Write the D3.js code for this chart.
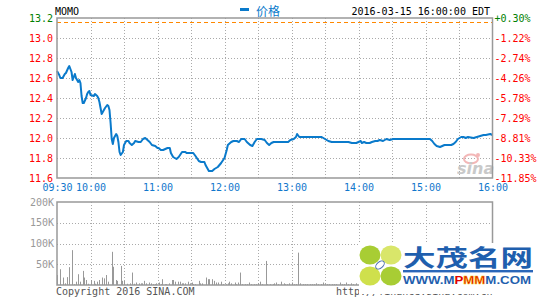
<!DOCTYPE html>
<html>
<head>
<meta charset="utf-8">
<script src="https://cdn.jsdelivr.net/npm/d3@7"></script>
<style>
  body { margin: 0; background: #fff; }
  svg { display: block; }
  text { font-family: "DejaVu Sans Mono", monospace; font-size: 10px; }
</style>
</head>
<body>
<div id="chart"></div>
<script>
// minutes since 09:30 and last price
const priceMinutes = [0,2,3,5,7,8,10,11,12,13,14,15,16,17,19,20,21,22,23,24,26,27,28,29,30,33,34,36,37,38,39,40,41,43,45,46,47,48,49,50,51,53,54,55,56,57,59,60,62,64,65,67,69,70,73,75,77,79,81,83,85,88,90,91,93,95,97,
  99,101,102,104,107,109,112,115,116,119,122,124,127,129,132,133,135,136,139,141,144,147,150,152,153,156,158,161,163,165,168,170,173,175,177,179,183,186,188,190,192,194,207,209,212,214,215,217,219,237,240,243,246,261,264,268,270,272,273,275,277,280,282,285,287,289,292,295,298,301,331,334,336,338,340,343,345,347,350,353,355,357,359,362,364,366,368,373,376,379,382,384,388,390];
const prices = [12.67,12.63,12.60,12.60,12.64,12.65,12.70,12.72,12.69,12.66,12.58,12.61,12.64,12.60,12.56,12.58,12.55,12.42,12.35,12.35,12.40,12.44,12.46,12.47,12.43,12.42,12.44,12.42,12.40,12.36,12.30,12.24,12.26,12.30,12.33,12.32,12.28,12.15,11.99,11.94,12.00,12.04,12.02,11.96,11.86,11.83,11.86,11.93,11.97,11.97,11.95,11.93,11.95,11.97,11.96,11.96,11.99,12.00,11.98,11.96,11.93,11.92,11.90,11.90,11.88,11.88,11.89,
  11.90,11.90,11.85,11.81,11.79,11.81,11.86,11.86,11.85,11.85,11.85,11.82,11.77,11.76,11.76,11.73,11.69,11.67,11.67,11.69,11.71,11.75,11.80,11.88,11.93,11.96,11.97,11.97,11.96,11.99,11.99,11.96,11.93,11.92,11.96,11.99,11.99,11.98,11.95,11.93,11.95,11.96,11.96,11.98,11.99,12.01,12.04,12.01,12.01,12.01,11.99,11.97,11.96,11.96,11.95,11.95,11.96,11.97,11.95,11.96,11.95,11.95,11.96,11.97,11.97,11.98,11.97,11.99,11.98,11.99,11.99,11.99,11.97,11.94,11.92,11.91,11.92,11.93,11.93,11.93,11.94,11.96,11.99,12.01,12.01,12.00,12.01,12.00,12.01,12.02,12.03,12.03,12.04,12.03];

// volume bars (minutes since 09:30, thousands of shares)
const volMinutes = [0,3,5,7,9,11,13,15,17,19,21,23,24,26,28,30,33,34,36,38,40,42,44,46,49,50,53,54,57,58,60,63,65,67,69,71,73,75,76,78,80,82,84,86,88,89,91,93,94,97,98,100,103,104,106,108,110,112,113,115,117,119,121,122,124,127,128,130,133,135,136,139,141,142,144,147,149,151,153,154,156,159,160,162,164,166,168,170,172,174,176,178,180,182,184,187,188,191,193,194,196,198,201,203,204,206,208,210,212,214,216,218,220,222,224,227,228,230,232,234,236,238,240,242,244,246,248,250,253,255,257,259,261,263,265,268];
const volumes = [24,38,18,4,19,43,84,2,8,26,8,34,18,12,3,12,10,3,8,12,18,16,24,8,80,44,12,10,46,10,10,3,4,30,3,6,4,4,4,10,4,6,4,2,2,4,6,2,14,2,2,4,12,12,8,8,8,4,4,4,8,4,6,2,2,10,4,4,18,14,14,14,10,6,6,8,2,2,4,8,4,6,2,6,30,2,2,2,6,2,2,2,4,8,2,58,2,2,2,4,6,2,8,4,2,2,4,6,2,2,78,4,2,2,2,2,2,2,4,2,2,6,2,2,2,2,2,2,6,2,2,6,2,4,2,4];

const prevClose = 13.16;
const priceTicks = [13.2,13.0,12.8,12.6,12.4,12.2,12.0,11.8,11.6];
const pctLabels = ["+0.30%","-1.22%","-2.74%","-4.26%","-5.78%","-7.29%","-8.81%","-10.33%","-11.85%"];
const gridMinutes = [30,60,90,120,150,180,210,240,270,300,330,360];
const timeTickMinutes = [0,30,90,150,210,270,330,390];
const timeLabels = ["09:30","10:00","11:00","12:00","13:00","14:00","15:00","16:00"];
const volTicks = [50,100,150,200];

const W = 545, H = 300;
const svg = d3.select('#chart').append('svg').attr('width', W).attr('height', H);

const x = d3.scaleLinear().domain([0, 390]).range([57, 492.5]);
const yP = d3.scaleLinear().domain([11.6, 13.2]).range([178, 18]);
const yV = d3.scaleLinear().domain([0, 200]).range([285, 202]);

const gridClr = '#aaa', frameClr = '#999';

function dotted(sel){
  return sel.attr('stroke', gridClr).attr('stroke-width', 1).attr('stroke-dasharray', '1,2').attr('shape-rendering', 'crispEdges');
}

// ---- price panel grid
svg.append('g').selectAll('line').data(priceTicks.slice(1, -1)).join('line')
  .attr('x1', x(0)).attr('x2', x(390))
  .attr('y1', d => Math.round(yP(d)) + 0.5).attr('y2', d => Math.round(yP(d)) + 0.5)
  .call(dotted);
svg.append('g').selectAll('line').data(gridMinutes).join('line')
  .attr('x1', d => Math.round(x(d)) + 0.5).attr('x2', d => Math.round(x(d)) + 0.5)
  .attr('y1', yP(13.2)).attr('y2', yP(11.6))
  .call(dotted);

// previous close
svg.append('line')
  .attr('x1', x(0)).attr('x2', x(390))
  .attr('y1', Math.round(yP(prevClose)) + 0.5).attr('y2', Math.round(yP(prevClose)) + 0.5)
  .attr('stroke', '#ff8800').attr('stroke-width', 1.2).attr('stroke-dasharray', '4,3');

// price line
const line = d3.line().x((d, i) => x(priceMinutes[i])).y(d => yP(d));
svg.append('path').datum(prices)
  .attr('d', line).attr('fill', 'none')
  .attr('stroke', '#0a7acb').attr('stroke-width', 2).attr('stroke-linejoin', 'round');

// sina mark
const sina = svg.append('g').attr('opacity', 0.9);
sina.append('ellipse').attr('cx', 471).attr('cy', 159).attr('rx', 7).attr('ry', 4.5)
  .attr('fill', 'none').attr('stroke', '#f2b0b0').attr('stroke-width', 2);
sina.append('circle').attr('cx', 478).attr('cy', 155).attr('r', 2).attr('fill', '#f2b0b0');
sina.append('text').attr('x', 457).attr('y', 174)
  .style('font-family', 'DejaVu Sans').style('font-size', '16px').style('font-weight', 'bold').style('font-style', 'italic')
  .attr('fill', '#c4c4c4').text('sina');

// frame
svg.append('rect').attr('x', x(0)).attr('y', yP(13.2)).attr('width', x(390) - x(0)).attr('height', yP(11.6) - yP(13.2))
  .attr('fill', 'none').attr('stroke', frameClr).attr('stroke-width', 1.5);

// left price axis
const axL = svg.append('g').attr('transform', `translate(${x(0)},0)`)
  .call(d3.axisLeft(yP).tickValues(priceTicks).tickSize(0).tickPadding(4).tickFormat(d3.format('.1f')));
axL.select('.domain').remove();
axL.selectAll('text').style('font-family', '"DejaVu Sans Mono", monospace').style('font-size', '10px')
  .attr('fill', d => d > prevClose ? '#008000' : '#ff0000');

// right percent axis
const axR = svg.append('g').attr('transform', `translate(${x(390)},0)`)
  .call(d3.axisRight(yP).tickValues(priceTicks).tickSize(0).tickPadding(2).tickFormat((d, i) => pctLabels[i]));
axR.select('.domain').remove();
axR.selectAll('text').style('font-family', '"DejaVu Sans Mono", monospace').style('font-size', '10px')
  .attr('fill', d => d > prevClose ? '#008000' : '#ff0000');

// time axis
const axT = svg.append('g').attr('transform', `translate(0,${yP(11.6)})`)
  .call(d3.axisBottom(x).tickValues(timeTickMinutes).tickSize(0).tickPadding(6).tickFormat((d, i) => timeLabels[i]));
axT.select('.domain').remove();
axT.selectAll('text').style('font-family', '"DejaVu Sans Mono", monospace').style('font-size', '10px').attr('fill', '#1177cc');

// ---- volume panel
svg.append('g').selectAll('line').data(volTicks.slice(0, -1)).join('line')
  .attr('x1', x(0)).attr('x2', x(390))
  .attr('y1', d => Math.round(yV(d)) + 0.5).attr('y2', d => Math.round(yV(d)) + 0.5)
  .call(dotted);
svg.append('g').selectAll('line').data(gridMinutes).join('line')
  .attr('x1', d => Math.round(x(d)) + 0.5).attr('x2', d => Math.round(x(d)) + 0.5)
  .attr('y1', yV(200)).attr('y2', yV(0))
  .call(dotted);

svg.append('g').selectAll('rect').data(volumes).join('rect')
  .attr('x', (d, i) => Math.round(x(volMinutes[i])))
  .attr('width', 1)
  .attr('y', d => yV(d))
  .attr('height', d => yV(0) - yV(d))
  .attr('fill', '#999');

svg.append('rect').attr('x', x(0)).attr('y', yV(200)).attr('width', x(390) - x(0)).attr('height', yV(0) - yV(200))
  .attr('fill', 'none').attr('stroke', frameClr).attr('stroke-width', 1.5);

const axV = svg.append('g').attr('transform', `translate(${x(0)},0)`)
  .call(d3.axisLeft(yV).tickValues(volTicks).tickSize(0).tickPadding(3).tickFormat(d => d + 'K'));
axV.select('.domain').remove();
axV.selectAll('text').style('font-family', '"DejaVu Sans Mono", monospace').style('font-size', '10px').attr('fill', '#999');

// ---- header
svg.append('text').attr('x', 55).attr('y', 15).attr('fill', '#000').text('MOMO');
svg.append('rect').attr('x', 240).attr('y', 8).attr('width', 9).attr('height', 3).attr('fill', '#0a7acb');
svg.append('text').attr('x', 256).attr('y', 16).attr('fill', '#0a7acb')
  .style('font-family', '"Noto Sans CJK SC", sans-serif').style('font-size', '12px').text('价格');
svg.append('text').attr('x', 490).attr('y', 15).attr('text-anchor', 'end').attr('fill', '#000')
  .text('2016-03-15 16:00:00 EDT');

// ---- footer
svg.append('text').attr('x', 56).attr('y', 295).attr('fill', '#555').text('Copyright 2016 SINA.COM');
svg.append('text').attr('x', 336).attr('y', 295).attr('fill', '#555').text('http://finance.sina.com.cn');

// ---- overlay watermark
const wm = svg.append('g');
wm.append('rect').attr('x', 359).attr('y', 243).attr('width', W - 359).attr('height', 51).attr('fill', '#fff');
const leaves = [
  {cx: 370, cy: 255, c: '#a8cd34'}, {cx: 391, cy: 255, c: '#d9e66a'},
  {cx: 370, cy: 276, c: '#cfe04c'}, {cx: 391, cy: 276, c: '#a8cd34'}
];
wm.selectAll('ellipse').data(leaves).join('ellipse')
  .attr('cx', d => d.cx).attr('cy', d => d.cy).attr('rx', 10.5).attr('ry', 9.5).attr('fill', d => d.c);
wm.append('ellipse').attr('cx', 380).attr('cy', 265).attr('rx', 5).attr('ry', 3)
  .attr('transform', 'rotate(-40,380,265)').attr('fill', 'none').attr('stroke', '#4a6fb0').attr('stroke-width', 1);
wm.append('text').attr('x', 403).attr('y', 266).attr('textLength', 130).attr('lengthAdjust', 'spacingAndGlyphs')
  .style('font-family', '"Noto Sans CJK SC", sans-serif').style('font-size', '23px').style('font-weight', 'bold')
  .attr('fill', '#1f5fae').text('大茂名网');
wm.append('rect').attr('x', 403).attr('y', 270).attr('width', 130).attr('height', 2).attr('fill', '#2a66b8');
wm.append('rect').attr('x', 403).attr('y', 272).attr('width', 130).attr('height', 1).attr('fill', '#a8c0e4');
const url = wm.append('text').attr('x', 403).attr('y', 284).attr('textLength', 128).attr('lengthAdjust', 'spacingAndGlyphs')
  .style('font-family', '"Liberation Sans", Arial, sans-serif').style('font-size', '11px').style('font-weight', 'bold')
  .attr('fill', '#1f5fae');
url.append('tspan').text('WWW.M');
url.append('tspan').attr('fill', '#e00000').text('P');
url.append('tspan').attr('fill', '#e00000').attr('stroke', '#f5d000').attr('stroke-width', 0.4).text('MM');
url.append('tspan').text('M.COM');
</script>
</body>
</html>
